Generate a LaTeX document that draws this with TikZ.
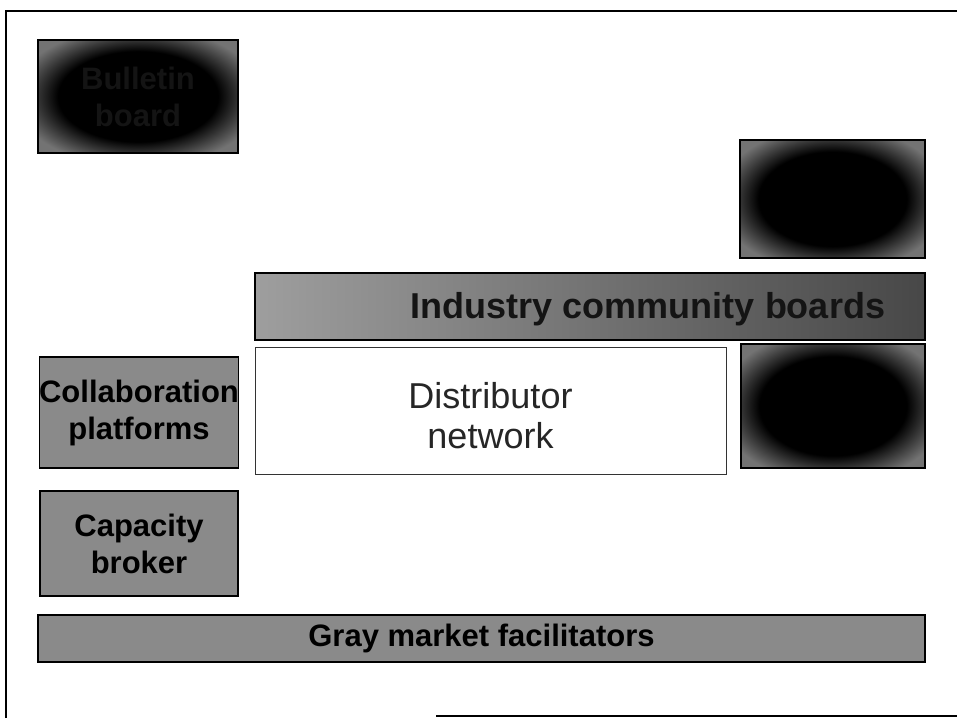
\documentclass[tikz,border=0pt]{standalone}
\usepackage{fontspec}
\setmainfont{Liberation Sans}
\usetikzlibrary{positioning}
\usetikzlibrary{shadings}

\pgfdeclareradialshading{darkbox}{\pgfpoint{0bp}{0bp}}{%
  color(0bp)=(black); color(20bp)=(black); color(31bp)=(black!55); color(50bp)=(black!55)}

\begin{document}
\begin{tikzpicture}[x=1pt, y=-1pt,
  every box/.style={draw=black, line width=1.2pt, inner sep=0pt, align=center,
    font=\bfseries\fontsize{31}{37}\selectfont},
  grey box/.style={every box, fill=black!46},
  dark box/.style={every box, shading=darkbox},
  plain box/.style={draw=black!80, line width=0.8pt, fill=white, align=center,
    text=black!85, font=\fontsize{36}{40}\selectfont}]

\useasboundingbox (0,0) rectangle (957,718);

% page frame
\draw [line width=2.4pt] (6,718) -- (6,11) -- (957,11);
\draw [line width=2.4pt] (436,716) -- (957,716);

% dark boxes
\node [dark box, minimum width=200pt, minimum height=113pt, text=black!92] (bulletin) at (138,96.5) {Bulletin\\board};
\node [dark box, minimum width=185pt, minimum height=118pt] (auction) at (832.5,199) {};
\node [dark box, minimum width=184pt, minimum height=124pt] (exchange) at (833,406) {};

% grey boxes
\node [grey box, minimum width=670pt, minimum height=67pt,
       left color=black!38, right color=black!72] (industry) at (590,306.5) {};
\node [font=\bfseries\fontsize{36}{40}\selectfont, text=black!92] (industry-text) at (648,309) {Industry community boards};
\node [grey box, minimum width=198pt, minimum height=111pt] (collab) at (139,412.5) {Collaboration\\platforms};
\node [grey box, minimum width=198pt, minimum height=105pt] (capacity) at (139,543.5) {Capacity\\broker};
\node [grey box, minimum width=887pt, minimum height=47pt] (gray) at (481.5,638.5) {Gray market facilitators};

% centre
\node [plain box, minimum width=471pt, minimum height=127pt] (distributor) at (490.5,410.5) {};
\node [align=center, text=black!85, font=\fontsize{36}{40}\selectfont] (distributor-text) at (490.5,416) {Distributor\\network};

\end{tikzpicture}
\end{document}
